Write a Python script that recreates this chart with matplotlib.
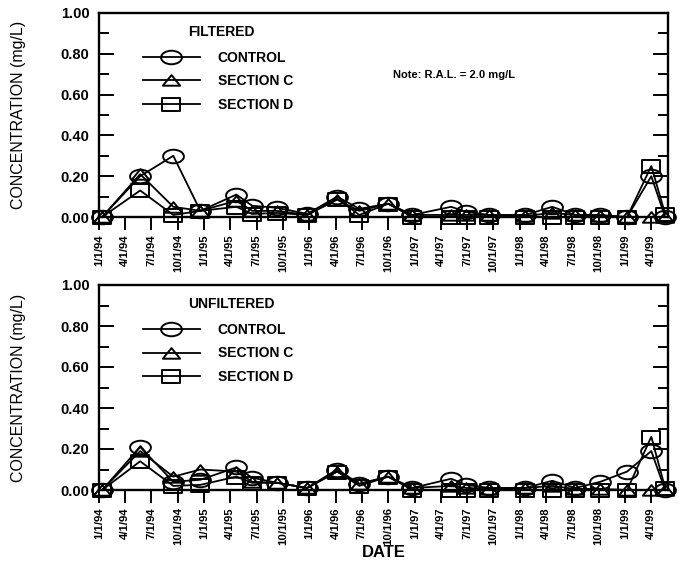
import numpy as np
import pandas as pd
import matplotlib
matplotlib.use("Agg")
import matplotlib.pyplot as plt
import matplotlib.dates as mdates
from matplotlib.path import Path
from matplotlib.transforms import Affine2D
from matplotlib.ticker import MultipleLocator, FormatStrFormatter, FixedLocator, FixedFormatter

plt.rcParams['font.family'] = ['Liberation Sans', 'DejaVu Sans']

# ---------------- data ----------------
sample_dates = ["1994-01-11", "1994-05-23", "1994-09-15", "1994-12-18", "1995-04-22",
                "1995-06-16", "1995-09-11", "1995-12-24", "1996-04-06", "1996-06-22",
                "1996-09-30", "1996-12-23", "1997-05-07", "1997-06-28", "1997-09-16",
                "1998-01-19", "1998-04-23", "1998-07-12", "1998-10-07", "1999-01-08",
                "1999-04-02", "1999-05-20"]

filt_control = [0.0, 0.20, 0.30, 0.03, 0.11, 0.055, 0.045, 0.015, 0.10, 0.04, 0.065,
                0.01, 0.05, 0.025, 0.01, 0.01, 0.05, 0.01, 0.01, 0.0, 0.20, 0.0]
filt_sec_c = [0.0, 0.21, 0.05, 0.03, 0.08, 0.03, 0.03, 0.01, 0.085, 0.03, 0.065,
              0.01, 0.01, 0.01, 0.01, 0.005, 0.02, 0.01, 0.005, 0.0, 0.0, 0.0]
filt_sec_d = [0.0, 0.13, 0.01, 0.03, 0.05, 0.015, 0.02, 0.01, 0.09, 0.01, 0.065,
              0.0, 0.0, 0.0, 0.0, 0.0, 0.0, 0.0, 0.0, 0.0, 0.25, 0.015]

unf_control = [0.0, 0.21, 0.04, 0.05, 0.11, 0.06, 0.035, 0.01, 0.10, 0.03, 0.065,
               0.01, 0.055, 0.025, 0.01, 0.01, 0.045, 0.01, 0.04, 0.09, 0.19, 0.0]
unf_sec_c = [0.0, 0.19, 0.065, 0.10, 0.09, 0.04, 0.035, 0.01, 0.09, 0.03, 0.065,
             0.01, 0.02, 0.01, 0.005, 0.01, 0.02, 0.005, 0.005, 0.0, 0.0, 0.0]
unf_sec_d = [0.0, 0.14, 0.02, 0.025, 0.065, 0.035, 0.035, 0.01, 0.09, 0.02, 0.065,
             0.0, 0.0, 0.0, 0.0, 0.0, 0.0, 0.0, 0.0, 0.0, 0.26, 0.01]

tick_labels = ["1/1/94", "4/1/94", "7/1/94", "10/1/94", "1/1/95", "4/1/95", "7/1/95",
               "10/1/95", "1/1/96", "4/1/96", "7/1/96", "10/1/96", "1/1/97", "4/1/97",
               "7/1/97", "10/1/97", "1/1/98", "4/1/98", "7/1/98", "10/1/98", "1/1/99",
               "4/1/99"]
series_labels = ["CONTROL", "SECTION C", "SECTION D"]

# ---------------- markers ----------------
ellipse = Affine2D().scale(1.0, 0.65).transform_path(Path.unit_circle())
rect = Path([(-1, -0.72), (1, -0.72), (1, 0.72), (-1, 0.72), (0, 0)],
            [Path.MOVETO, Path.LINETO, Path.LINETO, Path.LINETO, Path.CLOSEPOLY])
tri = Path([(-1, -0.6), (1, -0.6), (0, 0.62), (0, 0)],
           [Path.MOVETO, Path.LINETO, Path.LINETO, Path.CLOSEPOLY])
marker_specs = [(ellipse, 15.0), (tri, 12.5), (rect, 13.0)]

x = pd.to_datetime(sample_dates)
tick_pos = pd.to_datetime(tick_labels, format="%m/%d/%y")

fig = plt.figure(figsize=(6.82, 5.65), dpi=100)
ax1 = fig.add_axes([99 / 682, 1 - 217 / 565, 569 / 682, 204 / 565])
ax2 = fig.add_axes([99 / 682, 1 - 490 / 565, 569 / 682, 205 / 565])

panels = [(ax1, [filt_control, filt_sec_c, filt_sec_d], "FILTERED"),
          (ax2, [unf_control, unf_sec_c, unf_sec_d], "UNFILTERED")]

xmin = pd.Timestamp("1994-01-01") - pd.Timedelta(days=1)
xmax = pd.Timestamp("1999-05-30")

for ax, series, title in panels:
    handles = []
    for vals, (mk, ms), lab in zip(series, marker_specs, series_labels):
        h, = ax.plot(x, vals, color='black', lw=1.3, marker=mk, ms=ms,
                     mfc='none', mec='black', mew=1.4, clip_on=False, label=lab)
        handles.append(h)
    ax.set_xlim(xmin, xmax)
    ax.set_ylim(0, 1.0)
    ax.xaxis.set_major_locator(FixedLocator(mdates.date2num(tick_pos)))
    ax.xaxis.set_major_formatter(FixedFormatter(tick_labels))
    ax.yaxis.set_major_locator(MultipleLocator(0.2))
    ax.yaxis.set_minor_locator(MultipleLocator(0.1))
    ax.yaxis.set_major_formatter(FormatStrFormatter("%.2f"))
    for lbl in ax.get_xticklabels():
        lbl.set_rotation(90)
        lbl.set_fontweight('bold')
        lbl.set_fontsize(8.2)
    for lbl in ax.get_yticklabels():
        lbl.set_fontweight('bold')
        lbl.set_fontsize(10.5)
    ax.tick_params(axis='x', direction='out', length=9.5, width=1.4, pad=3)
    ax.tick_params(axis='y', which='major', direction='in', length=11, width=1.4,
                   pad=7, right=True)
    ax.tick_params(axis='y', which='minor', direction='in', length=7, width=1.4,
                   right=True)
    for sp in ax.spines.values():
        sp.set_linewidth(1.7)
    ax.set_ylabel("CONCENTRATION (mg/L)", fontsize=11.5)
    ax.yaxis.set_label_coords(-0.128, 0.5)
    ax.text(0.156, 0.905, title, transform=ax.transAxes, fontsize=10,
            fontweight='bold', va='center', ha='left')
    ax.legend(handles=handles, loc='upper left', bbox_to_anchor=(0.077, 0.815),
              frameon=False, prop={'weight': 'bold', 'size': 10},
              handlelength=4.1, handletextpad=1.3, labelspacing=0.68,
              borderpad=0, borderaxespad=0, numpoints=1)

ax1.text(0.517, 0.696, "Note: R.A.L. = 2.0 mg/L", transform=ax1.transAxes,
         fontsize=8, fontweight='bold', va='center', ha='left')

ax2.set_xlabel("DATE", fontsize=12, fontweight='bold')
ax2.xaxis.set_label_coords(0.5, -0.27)

fig.savefig("out.png", dpi=100)
